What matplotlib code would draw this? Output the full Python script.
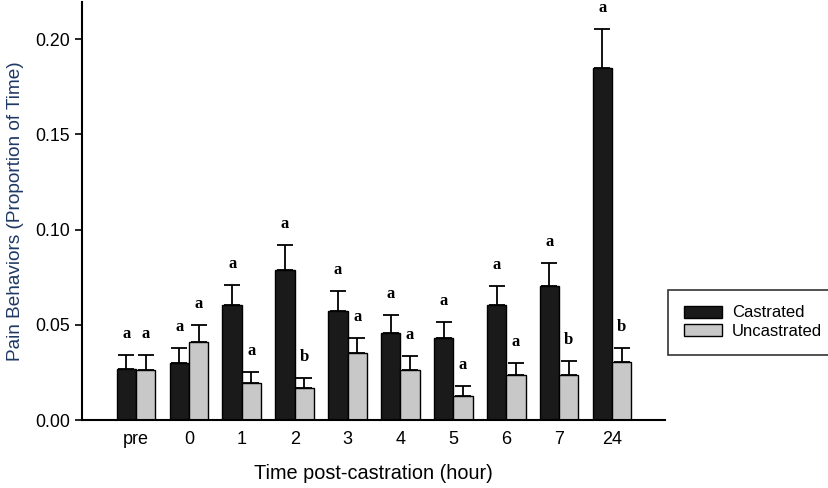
import numpy as np
import matplotlib
matplotlib.use("Agg")
import matplotlib.pyplot as plt

times = ["pre", "0", "1", "2", "3", "4", "5", "6", "7", "24"]
castrated = [0.0268, 0.0301, 0.0605, 0.0789, 0.0574, 0.0458, 0.0429, 0.0604, 0.0705, 0.1848]
castrated_se = [0.0073, 0.0079, 0.0104, 0.0130, 0.0103, 0.0093, 0.0085, 0.0101, 0.0118, 0.0203]
uncastrated = [0.0264, 0.0410, 0.0193, 0.0168, 0.0352, 0.0264, 0.0126, 0.0235, 0.0238, 0.0305]
uncastrated_se = [0.0077, 0.0089, 0.0059, 0.0053, 0.0080, 0.0074, 0.0054, 0.0066, 0.0072, 0.0073]
castrated_letters = ["a"] * 10
uncastrated_letters = ["a", "a", "a", "b", "a", "a", "a", "a", "b", "b"]

plt.rcParams['font.family'] = ['Liberation Sans', 'DejaVu Sans']

fig = plt.figure(figsize=(8.29, 4.88), dpi=100)
ax = fig.add_axes([0.099, 0.139, 0.703, 0.857])

x = np.arange(len(times))
width = 0.365

ax.bar(x - width/2, castrated, width, color='#1a1a1a', edgecolor='black',
       linewidth=1.0, label='Castrated', zorder=2)
ax.bar(x + width/2, uncastrated, width, color='#c8c8c8', edgecolor='black',
       linewidth=1.0, label='Uncastrated', zorder=2)

# upper error bars only
ax.errorbar(x - width/2, castrated, yerr=[np.zeros(len(x)), castrated_se], fmt='none',
            ecolor='black', elinewidth=1.3, capsize=5.5, capthick=1.3, zorder=1)
ax.errorbar(x + width/2, uncastrated, yerr=[np.zeros(len(x)), uncastrated_se], fmt='none',
            ecolor='black', elinewidth=1.3, capsize=5.5, capthick=1.3, zorder=1)

def letters(xs, vals, ses, labs):
    for xi, v, s, lab in zip(xs, vals, ses, labs):
        ax.annotate(lab, xy=(xi, v + s), xytext=(0, 9.5), textcoords='offset points',
                    ha='center', va='bottom', fontsize=12, fontweight='bold',
                    family=['Liberation Serif', 'DejaVu Serif'])

letters(x - width/2, castrated, castrated_se, castrated_letters)
letters(x + width/2, uncastrated, uncastrated_se, uncastrated_letters)

ax.set_xlim(-1.02, 10.0)
ax.set_ylim(0, 0.2195)
ax.set_yticks([0.0, 0.05, 0.10, 0.15, 0.20])
ax.set_yticklabels(["0.00", "0.05", "0.10", "0.15", "0.20"])
ax.set_xticks(x)
ax.set_xticklabels(times)
ax.tick_params(axis='x', length=0, labelsize=13, pad=8)
ax.tick_params(axis='y', length=5, width=1.2, labelsize=12.8, direction='out')

for side in ['top', 'right']:
    ax.spines[side].set_visible(False)
ax.spines['left'].set_linewidth(1.5)
ax.spines['bottom'].set_linewidth(1.5)

ax.set_ylabel("Pain Behaviors (Proportion of Time)", fontsize=13.7, color='#1f3864', labelpad=8)
ax.set_xlabel("Time post-castration (hour)", fontsize=14.3, labelpad=11)

leg = ax.legend(loc='center left', bbox_to_anchor=(1.005, 0.234), borderaxespad=0,
                fontsize=12, frameon=True, fancybox=False, edgecolor='black',
                handlelength=2.3, handleheight=0.75, borderpad=0.95, labelspacing=0.22,
                handletextpad=0.6)
leg.get_frame().set_linewidth(1.2)

fig.savefig("out.png", dpi=100)
